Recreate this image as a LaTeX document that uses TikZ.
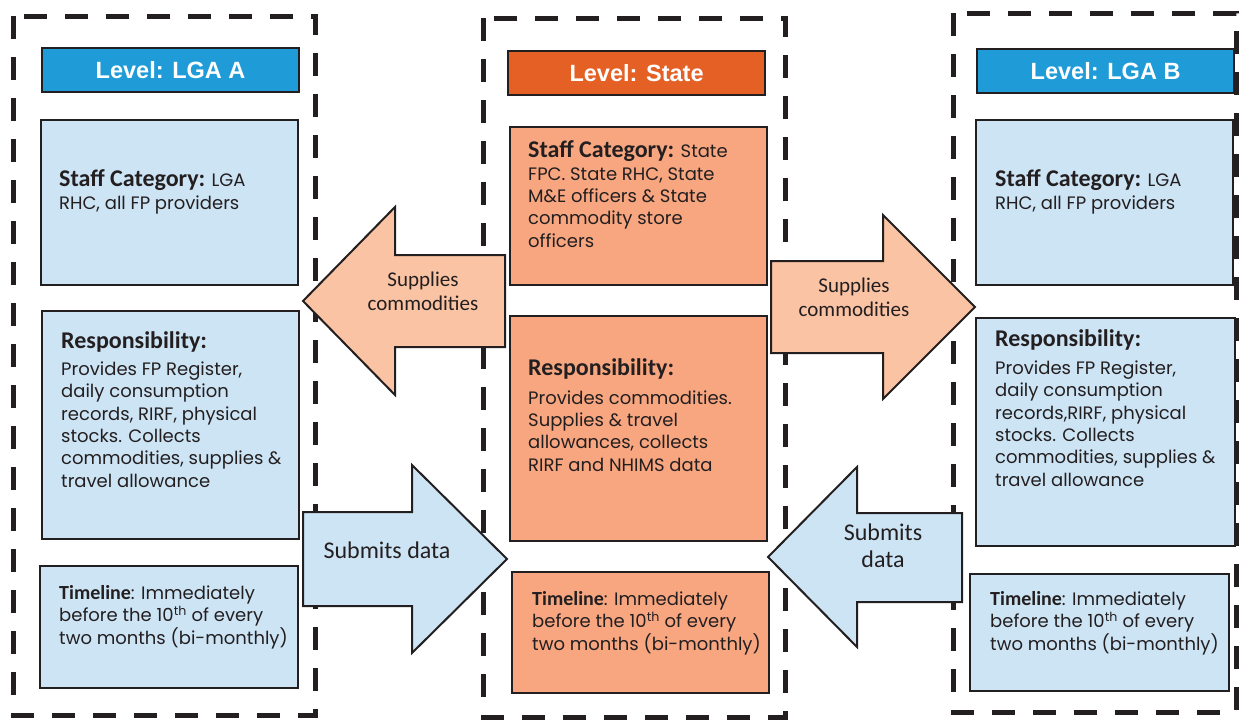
\documentclass[tikz,border=0pt]{standalone}
\usepackage{fontspec}
\newfontfamily\bodyfont{Poppins}
\newfontfamily\labelfont{Carlito}
\newfontfamily\headfont{Liberation Sans}
\definecolor{ink}{HTML}{231F20}
\definecolor{paleblue}{HTML}{CDE4F5}
\definecolor{headblue}{HTML}{1F9CD8}
\definecolor{headorange}{HTML}{E46025}
\definecolor{salmon}{HTML}{F7A680}
\definecolor{peach}{HTML}{FAC3A3}
% bold run-in labels
\newcommand\lbl[1]{{\labelfont\bfseries\fontsize{24}{22}\selectfont #1}}
\newcommand\tlbl[1]{{\labelfont\bfseries\fontsize{20}{22}\selectfont #1}}
\begin{document}
\begin{tikzpicture}[x=1pt,y=-1pt,
  zone/.style={draw=ink, line width=5pt, dash pattern=on 23pt off 18pt},
  headbox/.style={draw=ink, line width=2.2pt, anchor=north west, inner sep=0pt,
    minimum width=257pt, minimum height=44pt, text=white,
    font=\headfont\bfseries\fontsize{23.5}{26}\selectfont},
  infobox/.style={draw=ink, line width=2.2pt, anchor=north west, inner sep=0pt},
  % anchored on the baseline of the last line
  bodytext/.style={anchor=base west, align=left, inner sep=0pt, text=ink,
    font=\bodyfont\fontsize{18}{22.3}\selectfont},
  blockarrow/.style={draw=ink, line width=2pt, line join=miter},
  supplytext/.style={align=center, inner sep=0pt, text=ink,
    font=\labelfont\fontsize{21}{24}\selectfont},
  submittext/.style={align=center, inner sep=0pt, text=ink,
    font=\labelfont\fontsize{24}{27}\selectfont}]
\useasboundingbox (0,0) rectangle (1242,720);

% dashed zones, one per level
\draw[zone] (13,16) rectangle (315,715);
\draw[zone] (483,18) rectangle (785,717);
\draw[zone] (953,13) rectangle (1236,712);

% block arrows between the levels
\draw[blockarrow, fill=peach] (505,255) -- (395,255) -- (395,207) -- (303,301)
  -- (395,395) -- (395,347) -- (505,347) -- cycle;
\node[supplytext] (supA) at (423,291) {Supplies\\commodities};

\draw[blockarrow, fill=paleblue] (303,512) -- (412,512) -- (412,465) -- (507,559)
  -- (412,653) -- (412,606) -- (303,606) -- cycle;
\node[submittext] (subA) at (387,550) {Submits data};

\draw[blockarrow, fill=peach] (771,261) -- (883,261) -- (883,215) -- (975,307)
  -- (883,399) -- (883,353) -- (771,353) -- cycle;
\node[supplytext] (supB) at (854,297) {Supplies\\commodities};

\draw[blockarrow, fill=paleblue] (962,513) -- (857,513) -- (857,467) -- (768,557)
  -- (857,647) -- (857,602) -- (962,602) -- cycle;
\node[submittext] (subB) at (883,546) {Submits\\data};

% ---- LGA A ----
\node[headbox, fill=headblue] (hA) at (41,47) {Level: LGA A};
\node[infobox, fill=paleblue, minimum width=257pt, minimum height=165pt] (staffA) at (40,119) {};
\node[bodytext] (staffAt) at (59,209) {\lbl{Staff Category:} LGA\\RHC, all FP providers};
\node[infobox, fill=paleblue, minimum width=257pt, minimum height=228pt] (respA) at (41,310) {};
\node[bodytext] (respAt) at (61,487) {\lbl{Responsibility:}\\[5pt]Provides FP Register,\\daily consumption\\records, RIRF, physical\\stocks. Collects\\commodities, supplies \&\\travel allowance};
\node[infobox, fill=paleblue, minimum width=258pt, minimum height=122pt] (timeA) at (39,565) {};
\node[bodytext] (timeAt) at (59,644) {\tlbl{Timeline}: Immediately\\before the 10\textsuperscript{th} of every\\two months (bi-monthly)};

% ---- State ----
\node[headbox, fill=headorange] (hS) at (507,50) {Level: State};
\node[infobox, fill=salmon, minimum width=257pt, minimum height=158pt] (staffS) at (509,126) {};
\node[bodytext] (staffSt) at (528,247) {\lbl{Staff Category:} State\\FPC. State RHC, State\\M\&E officers \& State\\commodity store\\officers};
\node[infobox, fill=salmon, minimum width=257pt, minimum height=225pt] (respS) at (509,315) {};
\node[bodytext] (respSt) at (528,471) {\lbl{Responsibility:}\\[6pt]Provides commodities.\\Supplies \& travel\\allowances, collects\\RIRF and NHIMS data};
\node[infobox, fill=salmon, minimum width=257pt, minimum height=121pt] (timeS) at (511,571) {};
\node[bodytext] (timeSt) at (532,650) {\tlbl{Timeline}: Immediately\\before the 10\textsuperscript{th} of every\\two months (bi-monthly)};

% ---- LGA B ----
\node[headbox, fill=headblue] (hB) at (976,48) {Level: LGA B};
\node[infobox, fill=paleblue, minimum width=257pt, minimum height=165pt] (staffB) at (975,119) {};
\node[bodytext] (staffBt) at (995,209) {\lbl{Staff Category:} LGA\\RHC, all FP providers};
\node[infobox, fill=paleblue, minimum width=259pt, minimum height=228pt] (respB) at (975,317) {};
\node[bodytext] (respBt) at (995,486) {\lbl{Responsibility:}\\[6pt]Provides FP Register,\\daily consumption\\records,RIRF, physical\\stocks. Collects\\commodities, supplies \&\\travel allowance};
\node[infobox, fill=paleblue, minimum width=259pt, minimum height=117pt] (timeB) at (969,573) {};
\node[bodytext] (timeBt) at (990,650) {\tlbl{Timeline}: Immediately\\before the 10\textsuperscript{th} of every\\two months (bi-monthly)};
\end{tikzpicture}
\end{document}
